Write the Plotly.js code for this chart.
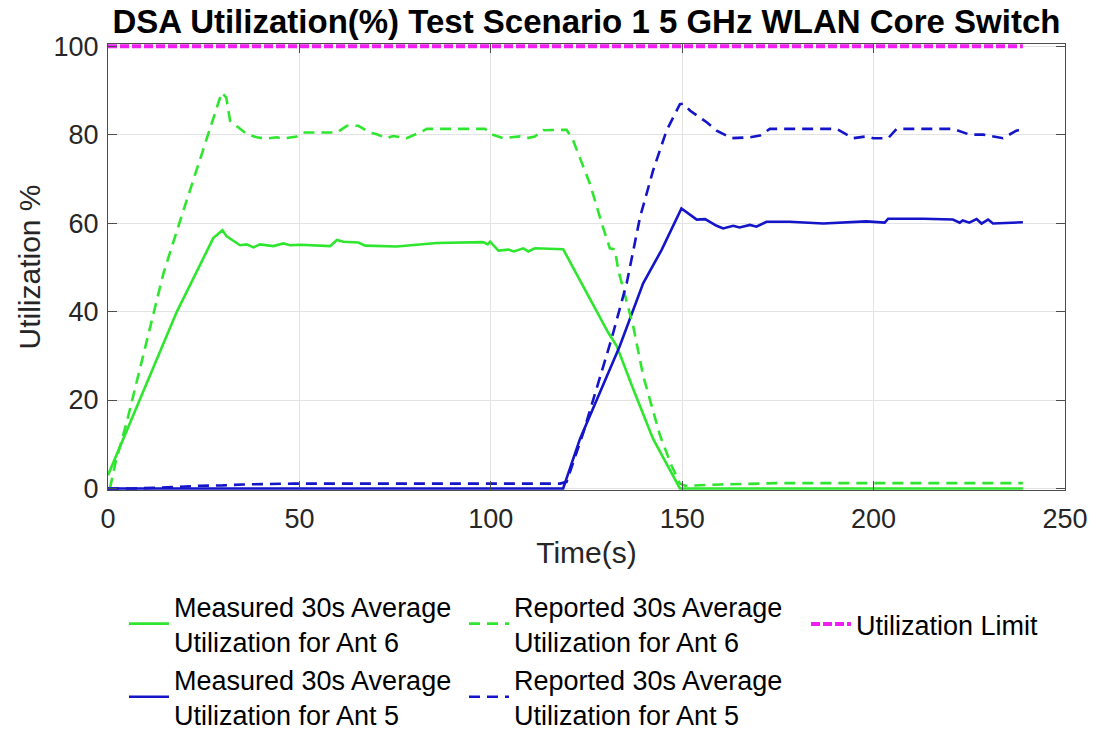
<!DOCTYPE html>
<html>
<head>
<meta charset="utf-8">
<script src="https://cdn.plot.ly/plotly-3.0.1.min.js"></script>
<style>html,body{margin:0;padding:0;background:#fff;}#chart{width:1094px;height:732px;}</style>
</head>
<body>
<div id="chart"></div>
<script>
// Measured 30s average utilization, Ant 6 (green solid)
const measAnt6T = [0, 18, 27.5, 29.9, 31, 34.5, 36.2, 38, 39.7, 43.2, 45.8, 47.6, 50.2, 58, 59.8, 61.5, 65.4, 67.2, 75.4, 79.8, 85.9, 98, 99.2, 99.8, 102, 104.6, 106, 108.5, 109.8, 111.5, 118.9, 130.7, 132.9, 137.2, 142.4, 149.4, 239];
const measAnt6V = [3, 40, 56.6, 58.4, 57, 55, 55.2, 54.5, 55.2, 54.8, 55.4, 55, 55.1, 54.8, 56.2, 55.8, 55.6, 54.9, 54.7, 55, 55.5, 55.7, 55.2, 55.8, 53.8, 54, 53.6, 54.3, 53.6, 54.3, 54.1, 35.2, 32.2, 22.5, 11.2, 0, 0];

// Reported 30s average utilization, Ant 6 (green dashed)
const repAnt6T = [0.5, 2, 4.9, 14.5, 18.9, 25.8, 29.7, 30.9, 31.9, 34.1, 36.3, 38.9, 41.1, 44.1, 45.8, 49.3, 51, 59.8, 62.4, 65.4, 68.4, 70.2, 72.8, 74.5, 78, 81.5, 83.3, 98.5, 100.2, 103.3, 107.6, 109.4, 111.5, 113.7, 119.8, 121.5, 125.9, 129, 131.1, 132.4, 133.3, 137.2, 139.8, 144.2, 147.2, 149.4, 150.8, 160, 175, 239];
const repAnt6V = [0, 6, 15, 48.7, 60.7, 79.4, 89.5, 88.4, 83.1, 81.6, 80.1, 79.4, 79.1, 79.4, 79.1, 79.6, 80.5, 80.5, 82, 82, 80.5, 80.1, 79.2, 79.7, 79.2, 80.5, 81.3, 81.3, 80.1, 79.2, 79.6, 79.2, 79.6, 81, 81.1, 78.7, 68.9, 59.9, 54.3, 54.1, 49.4, 36.7, 25.5, 12, 5.2, 1.1, 0.6, 0.9, 1.2, 1.2];

// Measured 30s average utilization, Ant 5 (blue solid)
const measAnt5T = [0, 118.9, 123.3, 133.7, 139.8, 144.6, 149.8, 153.8, 156, 159, 160.7, 163.3, 165, 167.7, 169.4, 172, 178, 186.8, 198.1, 202.9, 203.8, 213, 220.7, 222.5, 223.3, 225, 226.9, 228.2, 229.9, 231.2, 239];
const measAnt5V = [0, 0, 11.2, 32.2, 46.4, 53.9, 63.3, 60.8, 60.9, 59.4, 58.8, 59.4, 59, 59.6, 59.2, 60.3, 60.3, 59.9, 60.4, 60.1, 61, 61, 60.8, 60.1, 60.6, 60.1, 60.9, 59.9, 60.8, 59.9, 60.2];

// Reported 30s average utilization, Ant 5 (blue dashed)
const repAnt5T = [0, 6.6, 14, 18, 24, 30, 35.3, 48.4, 118.1, 119.8, 124.2, 131.6, 135.5, 139, 142.4, 145.9, 149.4, 150.3, 152.1, 156.4, 159, 162.9, 167.7, 170.3, 172.9, 190.3, 192.9, 194.7, 198.1, 199.9, 203.8, 206, 220.8, 225.1, 228.6, 233.8, 237.3, 239];
const repAnt5V = [0, 0, 0.2, 0.4, 0.6, 0.7, 0.9, 1.1, 1.1, 1.5, 12.7, 34, 46.4, 61.4, 71.9, 80.9, 86.9, 87, 85.4, 82.8, 80.9, 79.2, 79.4, 79.8, 81.3, 81.3, 80.1, 79.2, 79.6, 79.2, 79.2, 81.3, 81.3, 80, 80, 79.2, 80.9, 81.3];

// Utilization limit (magenta)
const limitT = [0, 239];
const limitV = [100, 100];

const xTicks = [0, 50, 100, 150, 200, 250];
const yTicks = [0, 20, 40, 60, 80, 100];

const GREEN = '#2fe62f';
const BLUE = '#1414c8';
const MAGENTA = '#f01ef0';
const FONT = 'Liberation Sans, Arial, Helvetica, sans-serif';

const traces = [
  {x: measAnt6T, y: measAnt6V, mode: 'lines', name: 'Measured 30s Average<br>Utilization for Ant 6',
   line: {color: GREEN, width: 2.6}, legend: 'legend'},
  {x: measAnt5T, y: measAnt5V, mode: 'lines', name: 'Measured 30s Average<br>Utilization for Ant 5',
   line: {color: BLUE, width: 2.6}, legend: 'legend'},
  {x: repAnt6T, y: repAnt6V, mode: 'lines', name: 'Reported 30s Average<br>Utilization for Ant 6',
   line: {color: GREEN, width: 2.6, dash: '11px,7px'}, legend: 'legend2'},
  {x: repAnt5T, y: repAnt5V, mode: 'lines', name: 'Reported 30s Average<br>Utilization for Ant 5',
   line: {color: BLUE, width: 2.6, dash: '11px,7px'}, legend: 'legend2'},
  {x: limitT, y: limitV, mode: 'lines', name: 'Utilization Limit',
   line: {color: MAGENTA, width: 4, dash: '9px,3px'}, legend: 'legend3'}
];

const legendBase = {
  orientation: 'v', xref: 'paper', yref: 'paper', xanchor: 'left', yanchor: 'top',
  bgcolor: 'rgba(0,0,0,0)', borderwidth: 0, itemwidth: 40,
  font: {family: FONT, size: 27, color: '#000'}
};

const layout = {
  width: 1094, height: 732,
  margin: {l: 108, r: 29, t: 44, b: 242, pad: 0, autoexpand: false},
  paper_bgcolor: '#fff', plot_bgcolor: '#fff',
  font: {family: FONT, color: '#262626'},
  title: {
    text: '<b>DSA Utilization(%) Test Scenario 1 5 GHz WLAN Core Switch</b>',
    font: {family: FONT, size: 33, color: '#000'},
    xref: 'paper', x: 0.5, xanchor: 'center',
    yref: 'container', y: 1 - 21 / 732, yanchor: 'middle'
  },
  xaxis: {
    range: [0, 250], tickvals: xTicks, ticktext: xTicks.map(String),
    showgrid: true, gridcolor: '#e3e3e3', gridwidth: 1, zeroline: false,
    showline: true, linecolor: '#4d4d4d', linewidth: 1, mirror: 'ticks',
    ticks: 'inside', ticklen: 9, tickcolor: '#4d4d4d', ticklabelstandoff: 5,
    tickfont: {family: FONT, size: 27, color: '#262626'},
    title: {text: 'Time(s)', font: {family: FONT, size: 30, color: '#262626'}, standoff: 8}
  },
  yaxis: {
    range: [-0.35, 100.5], tickvals: yTicks, ticktext: yTicks.map(String),
    showgrid: true, gridcolor: '#e3e3e3', gridwidth: 1, zeroline: false,
    showline: true, linecolor: '#4d4d4d', linewidth: 1, mirror: 'ticks',
    ticks: 'inside', ticklen: 9, tickcolor: '#4d4d4d', ticklabelstandoff: 3,
    tickfont: {family: FONT, size: 27, color: '#262626'},
    title: {text: 'Utilization %', font: {family: FONT, size: 30, color: '#262626'}, standoff: 4}
  },
  legend: Object.assign({}, legendBase, {x: 0.0167, y: -0.2063}),
  legend2: Object.assign({}, legendBase, {x: 0.372, y: -0.2063}),
  legend3: Object.assign({}, legendBase, {x: 0.7294, y: -0.2466}),
  showlegend: true
};

Plotly.newPlot('chart', traces, layout, {displayModeBar: false, staticPlot: true});
</script>
</body>
</html>
